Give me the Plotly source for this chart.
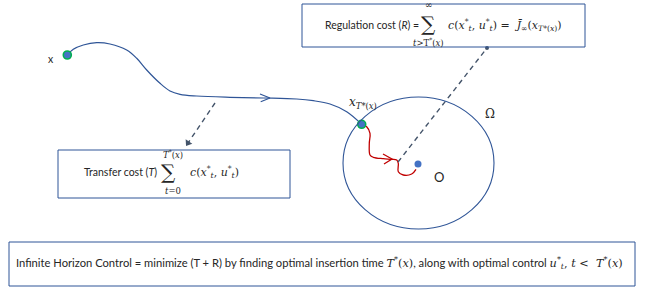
import plotly.graph_objects as go
import math

W, H = 646, 291

# ---- diagram data (pixel-space coordinates of the reference) ----
traj_x = [67.3, 73.3, 83.3, 96.7, 110, 126.7, 136.7, 146.7, 160, 170, 180, 196.7, 230, 263.3, 296.7, 313.3, 330, 346.7, 361.7]
traj_y = [55, 49.3, 45, 42.7, 44, 50, 58.3, 70, 83.3, 91, 94.3, 96, 97.3, 98, 99, 100.7, 104, 111.7, 124.3]
traj_arrow_x = [260, 270, 260.7]
traj_arrow_y = [94, 98, 101.7]

red_x = [361.7, 366.7, 370, 369.3, 370, 373.3, 383.3, 391.7, 396.7, 398.3, 398.3, 403.3, 411.7, 416]
red_y = [124.3, 126.7, 133.3, 143.3, 155, 157.3, 158.7, 159.3, 160, 163.3, 171.7, 175, 174, 169.3]
red_arrow_x = [383, 392, 384]
red_arrow_y = [154, 159, 164]

points_x = [67.3, 361.7]
points_y = [55, 124.3]
origin_x = [418]
origin_y = [164]

circle_box = [343, 97, 494, 229]           # x0, y0, x1, y1
reg_box = [302, 4, 585, 47]
trans_box = [58, 150, 290, 198]
ihc_box = [9, 242, 635, 286]

dash_reg = [(398, 162), (487, 48)]
dash_trans = [(215, 103), (188, 143)]

BLUE = "#2F5597"
BOXBLUE = "#2F5597"
DOT = "#4472C4"
GREEN = "#00B050"
RED = "#C00000"
DASH = "#44546A"
TXT = "#262626"
SANS = "Lato, 'Open Sans', sans-serif"
SERIF = "'DejaVu Serif', 'Liberation Serif', serif"

fig = go.Figure()

# trajectory
fig.add_trace(go.Scatter(x=traj_x, y=traj_y, mode="lines", line=dict(color=BLUE, width=1.2, shape="spline"), hoverinfo="skip"))
fig.add_trace(go.Scatter(x=traj_arrow_x, y=traj_arrow_y, mode="lines", line=dict(color=BLUE, width=1.2), hoverinfo="skip"))
# red trajectory inside region
fig.add_trace(go.Scatter(x=red_x, y=red_y, mode="lines", line=dict(color=RED, width=1.3, shape="spline"), hoverinfo="skip"))
fig.add_trace(go.Scatter(x=red_arrow_x, y=red_arrow_y, mode="lines", line=dict(color=RED, width=1.3), hoverinfo="skip"))
# dashed leaders
fig.add_trace(go.Scatter(x=[p[0] for p in dash_reg], y=[p[1] for p in dash_reg], mode="lines",
                         line=dict(color=DASH, width=1.4, dash="5px,4px"), hoverinfo="skip"))
fig.add_trace(go.Scatter(x=[p[0] for p in dash_trans], y=[p[1] for p in dash_trans], mode="lines",
                         line=dict(color=DASH, width=1.4, dash="5px,4px"), hoverinfo="skip"))
# points
fig.add_trace(go.Scatter(x=points_x, y=points_y, mode="markers",
                         marker=dict(size=8, color=DOT, line=dict(color=GREEN, width=1.6)), hoverinfo="skip"))
fig.add_trace(go.Scatter(x=origin_x, y=origin_y, mode="markers",
                         marker=dict(size=7, color=DOT, line=dict(width=0)), hoverinfo="skip"))
# dashed-leader end marks (arrowhead toward transfer box, dot at regulation box)
tx, ty = dash_trans[1]
fx, fy = dash_trans[0]
ang = math.degrees(math.atan2(ty - fy, tx - fx))
fig.add_trace(go.Scatter(x=[tx], y=[ty], mode="markers",
                         marker=dict(symbol="triangle-right", size=7, color=DASH, angle=ang), hoverinfo="skip"))
fig.add_trace(go.Scatter(x=[dash_reg[1][0]], y=[dash_reg[1][1]], mode="markers",
                         marker=dict(size=4, color=DASH), hoverinfo="skip"))

shapes = [
    dict(type="circle", xref="x", yref="y", x0=circle_box[0], y0=circle_box[1], x1=circle_box[2], y1=circle_box[3],
         line=dict(color=BLUE, width=1.1)),
]
for b in (reg_box, trans_box, ihc_box):
    shapes.append(dict(type="rect", xref="x", yref="y", x0=b[0], y0=b[1], x1=b[2], y1=b[3],
                       line=dict(color=BOXBLUE, width=1), fillcolor="rgba(0,0,0,0)"))

ann = []
def t(x, y, text, size=10.5, font=SANS, xanchor="left"):
    ann.append(dict(x=x, y=y, xref="x", yref="y", text=text, showarrow=False, xanchor=xanchor, yanchor="middle",
                    font=dict(family=font, size=size, color=TXT)))

def m(s, size):
    return "<span style=\"font-family:'DejaVu Serif',serif;font-size:%spx\">%s</span>" % (size, s)

cxu = "<i>c</i>(<i>x</i><sup>*</sup><sub><i>t</i></sub>, <i>u</i><sup>*</sup><sub><i>t</i></sub>)"

# regulation box text
t(323, 25, "Regulation cost (<i>R</i>) =", 10.5)
t(428, 24, "∑", 20, SERIF, "center")
t(429, 5, "∞", 9, SERIF, "center")
t(428, 42, "<i>t</i>>T<sup>*</sup>(<i>x</i>)", 8.5, SERIF, "center")
t(446, 25, cxu + " =  <i>J̄</i><sub>∞</sub>(<i>x</i><sub><i>T</i>*(<i>x</i>)</sub>)", 11, SERIF)

# transfer box text
t(82, 172, "Transfer cost (<i>T</i>)", 10.5)
t(168, 172, "∑", 20, SERIF, "center")
t(173, 154, "<i>T</i><sup>*</sup>(<i>x</i>)", 8.5, SERIF, "center")
t(173, 191, "<i>t</i>=0", 8.5, SERIF, "center")
t(188, 172, cxu, 11, SERIF)

# bottom box text
t(14, 263, "Infinite Horizon Control = minimize (T + R) by finding optimal insertion time "
           + m("<i>T</i><sup>*</sup>(<i>x</i>)", 11.3) + ", along with optimal control "
           + m("<i>u</i><sup>*</sup><sub><i>t</i></sub>, <i>t</i> <  <i>T</i><sup>*</sup>(<i>x</i>)", 11.3), 11.2)

# labels
t(51, 59, "x", 10.5, SANS, "center")
t(363, 103, "<i>x</i><sub><i>T</i>*(<i>x</i>)</sub>", 12, SERIF, "center")
t(490, 114, "Ω", 12, SERIF, "center")
t(439, 177, "O", 13, SANS, "center")

fig.update_layout(
    width=W, height=H, margin=dict(l=0, r=0, t=0, b=0),
    paper_bgcolor="white", plot_bgcolor="white", showlegend=False,
    xaxis=dict(range=[0, W], visible=False, fixedrange=True),
    yaxis=dict(range=[H, 0], visible=False, fixedrange=True),
    shapes=shapes, annotations=ann,
)

fig.write_html("out.html", config={"displayModeBar": False},
               post_script="document.body.style.margin='0';document.body.style.overflow='hidden';")
